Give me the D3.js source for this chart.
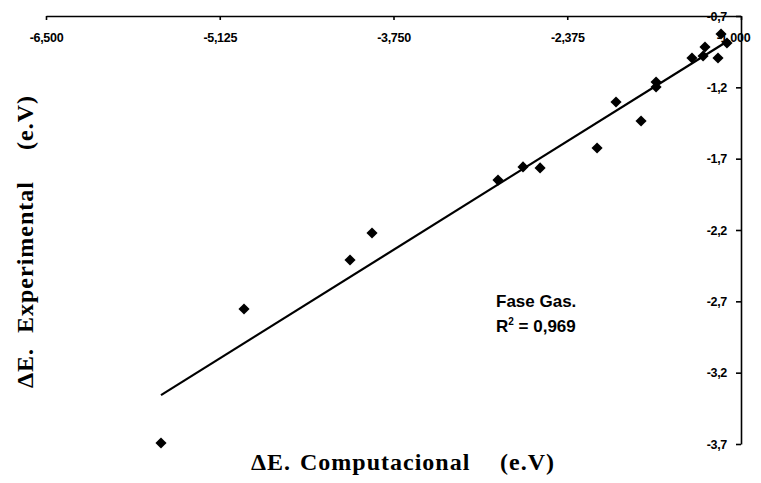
<!DOCTYPE html>
<html>
<head>
<meta charset="utf-8">
<script src="https://cdn.jsdelivr.net/npm/d3@7"></script>
<style>
  body { margin: 0; background: #fff; }
  svg { display: block; }
  .axis path, .axis line { stroke: #000; stroke-width: 1.6px; }
  .axis text { font-family: "Liberation Sans", Arial, sans-serif; font-weight: bold; font-size: 12.5px; fill: #000; letter-spacing: -0.3px; }
  .title { font-family: "Liberation Serif", "Times New Roman", serif; font-weight: bold; font-size: 24px; fill: #000; letter-spacing: 1px; }
  .note { font-family: "Liberation Sans", Arial, sans-serif; font-weight: bold; font-size: 17px; fill: #000; }
</style>
</head>
<body>
<svg id="chart" width="761" height="483"></svg>
<script>
// ΔE computed (x) vs ΔE experimental (y), gas phase, in eV
const computational = [-5.590, -4.933, -4.094, -3.920, -2.923, -2.725, -2.590, -2.139, -1.989,
                       -1.791, -1.672, -1.672, -1.388, -1.300, -1.285, -1.182, -1.158, -1.111];
const experimental  = [-3.693, -2.754, -2.410, -2.221, -1.850, -1.758, -1.765, -1.625, -1.303,
                       -1.436, -1.163, -1.198, -0.994, -0.980, -0.917, -0.994, -0.826, -0.889];

const xTicks = [-6.5, -5.125, -3.75, -2.375, -1.0];
const yTicks = [-0.7, -1.2, -1.7, -2.2, -2.7, -3.2, -3.7];

// linear fit drawn over the data range
const fitSlope = 0.5534;
const fitIntercept = -0.264;
const fitRange = [-5.59, -1.12];
const r2Label = "0,969";
const phaseLabel = "Fase Gas.";

const svg = d3.select("#chart");

const x = d3.scaleLinear().domain([-6.5, -1.0]).range([46, 741]);
const y = d3.scaleLinear().domain([-0.7, -3.7]).range([16, 444]);

const comma = f => v => d3.format(f)(v).replace("−", "-").replace(".", ",");

// top axis (x), ticks pointing into the plot
const gx = svg.append("g")
  .attr("class", "axis")
  .attr("transform", "translate(0,16)")
  .call(d3.axisBottom(x).tickValues(xTicks).tickFormat(comma(".3f"))
    .tickSize(4).tickSizeOuter(0).tickPadding(13));
gx.selectAll(".tick text").filter(d => d === -1.0).attr("dx", -8);

// right axis (y), labels on the inner side
svg.append("g")
  .attr("class", "axis")
  .attr("transform", "translate(741,0)")
  .call(d3.axisLeft(y).tickValues(yTicks).tickFormat(comma(".1f"))
    .tickSize(5).tickSizeOuter(0).tickPadding(9));

// regression line
svg.append("line")
  .attr("x1", x(fitRange[0])).attr("y1", y(fitSlope * fitRange[0] + fitIntercept))
  .attr("x2", x(fitRange[1])).attr("y2", y(fitSlope * fitRange[1] + fitIntercept))
  .attr("stroke", "#000").attr("stroke-width", 2.2);

// diamond markers
const diamond = d3.symbol().type(d3.symbolSquare).size(62);
svg.append("g").selectAll("path")
  .data(computational.map((c, i) => [c, experimental[i]]))
  .join("path")
  .attr("d", diamond)
  .attr("transform", d => `translate(${x(d[0])},${y(d[1])}) rotate(45)`)
  .attr("fill", "#000");

// annotation
svg.append("text").attr("class", "note").attr("x", 496).attr("y", 307).text(phaseLabel);
const r2 = svg.append("text").attr("class", "note").attr("x", 496).attr("y", 332);
r2.append("tspan").text("R");
r2.append("tspan").attr("font-size", 10).attr("dy", -7).text("2");
r2.append("tspan").attr("dy", 7).text(" = " + r2Label);

// axis titles
const xt = svg.append("text").attr("class", "title").attr("y", 470);
xt.append("tspan").attr("x", 251).text("ΔE.");
xt.append("tspan").attr("x", 300).text("Computacional");
xt.append("tspan").attr("x", 500).text("(e.V)");

const yt = svg.append("text").attr("class", "title")
  .attr("transform", "translate(33,388) rotate(-90)");
yt.append("tspan").attr("x", 0).text("ΔE.");
yt.append("tspan").attr("x", 55).text("Experimental");
yt.append("tspan").attr("x", 238).text("(e.V)");
</script>
</body>
</html>
